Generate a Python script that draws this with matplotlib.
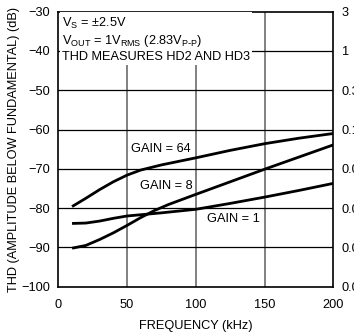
import matplotlib
matplotlib.use("Agg")
import matplotlib.pyplot as plt
from matplotlib import font_manager

# narrow font like the datasheet, if it is there
names = set(f.name for f in font_manager.fontManager.ttflist)
if 'Liberation Sans Narrow' in names:
    plt.rcParams['font.family'] = ['Liberation Sans Narrow', 'DejaVu Sans']
    fs = 10.3
else:
    plt.rcParams['font.family'] = ['Liberation Sans', 'DejaVu Sans']
    fs = 9.2
plt.rcParams['font.size'] = fs

# data (frequency kHz, THD dB)
freq64 = [10, 20, 30, 40, 50, 60, 75, 100, 125, 150, 175, 200]
thd64 = [-79.6, -77.5, -75.3, -73.3, -71.6, -70.3, -69.0, -67.2, -65.3, -63.6, -62.2, -61.0]

freq8 = [10, 20, 30, 40, 50, 60, 70, 80, 100, 125, 150, 175, 200]
thd8 = [-90.2, -89.5, -88.0, -86.3, -84.4, -82.4, -80.6, -79.1, -76.5, -73.3, -70.1, -67.0, -63.9]

freq1 = [10, 20, 30, 40, 50, 75, 100, 125, 150, 175, 200]
thd1 = [-83.9, -83.8, -83.3, -82.6, -82.0, -81.2, -80.3, -78.8, -77.2, -75.5, -73.7]

yticks = [-30, -40, -50, -60, -70, -80, -90, -100]
right_labels = ["3", "1", "0.3", "0.1", "0.03", "0.01", "0.003", "0.001"]
xticks = [0, 50, 100, 150, 200]

fig = plt.figure(figsize=(3.54, 3.34), dpi=100)
ax = fig.add_axes([58.3/354, 47.3/334, 275/354, 275/334])

for x in [50, 100, 150]:
    ax.axvline(x, color='#777777', lw=1.3, zorder=1)
for y in [-40, -50, -60, -70, -80, -90]:
    ax.axhline(y, color='black', lw=0.9, zorder=1)

ax.plot(freq64, thd64, color='black', lw=2.0, zorder=3, solid_capstyle='butt')
ax.plot(freq8, thd8, color='black', lw=2.0, zorder=3, solid_capstyle='butt')
ax.plot(freq1, thd1, color='black', lw=2.0, zorder=3, solid_capstyle='butt')

ax.text(53.0, -64.9, "GAIN = 64", va='center', ha='left', zorder=4)
ax.text(59.5, -74.3, "GAIN = 8", va='center', ha='left', zorder=4)
ax.text(108.5, -82.8, "GAIN = 1", va='center', ha='left', zorder=4)

note = ("V$\\mathregular{_S}$ = \u00b12.5V\n"
        "V$\\mathregular{_{OUT}}$ = 1V$\\mathregular{_{RMS}}$ (2.83V$\\mathregular{_{P\\text{-}P}}$)\n"
        "THD MEASURES HD2 AND HD3")
ax.text(2.7, -31.0, note, va='top', ha='left', linespacing=1.2, zorder=5,
        bbox=dict(facecolor='white', edgecolor='none', pad=1.5))

ax.set_xlim(0, 200)
ax.set_ylim(-100, -30)
ax.set_xticks(xticks)
ax.set_yticks(yticks)
ax.set_yticklabels([f"\u2212{abs(v)}" for v in yticks])
ax.tick_params(length=0)
ax.tick_params(axis='y', pad=6)
ax.tick_params(axis='x', pad=9)
for s in ax.spines.values():
    s.set_linewidth(1.2)

ax2 = ax.twinx()
ax2.set_ylim(-100, -30)
ax2.set_yticks(yticks)
ax2.set_yticklabels(right_labels)
ax2.tick_params(length=0, pad=6)
for s in ax2.spines.values():
    s.set_visible(False)

ax.set_xlabel("FREQUENCY (kHz)", labelpad=6)
ax.set_ylabel("THD (AMPLITUDE BELOW FUNDAMENTAL) (dB)", labelpad=1)

fig.savefig("out.png", dpi=100)
